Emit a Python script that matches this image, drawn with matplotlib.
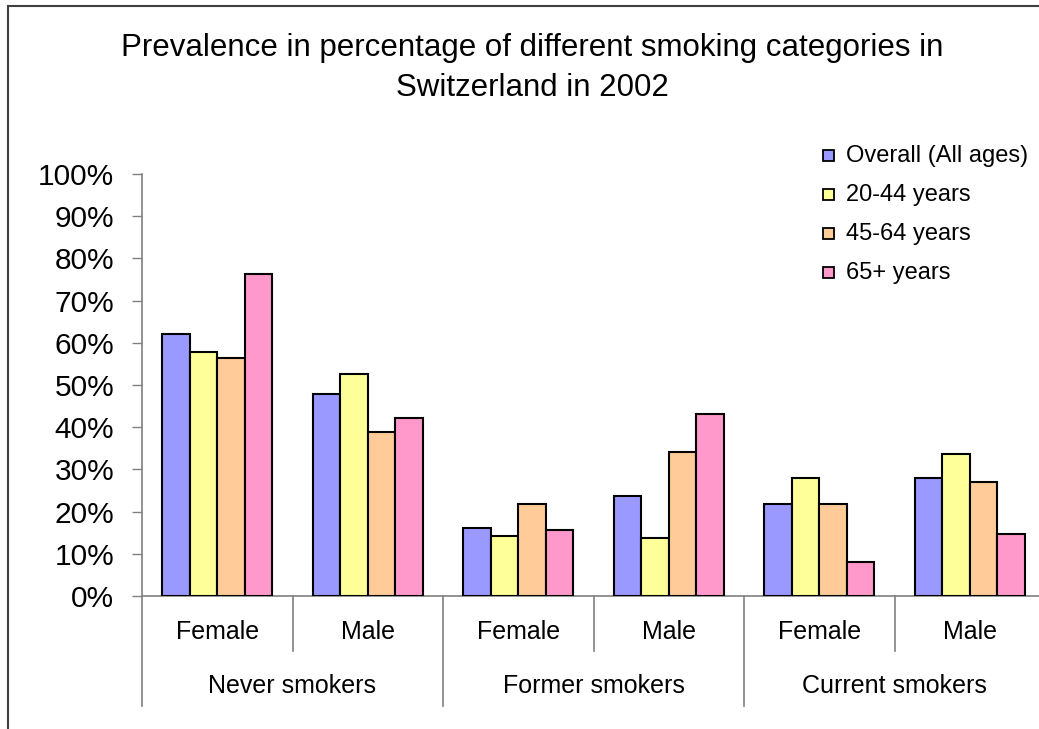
import matplotlib.pyplot as plt
import numpy as np
from matplotlib.patches import Rectangle

plt.rcParams['font.family'] = ['Liberation Sans', 'DejaVu Sans']

# data, in percent
groups = ["Never smokers", "Former smokers", "Current smokers"]
sexes = ["Female", "Male"]
series = ["Overall (All ages)", "20-44 years", "45-64 years", "65+ years"]
colors = ["#9999FF", "#FFFF99", "#FFCC99", "#FF99CC"]

overall = [62.0, 47.8, 16.1, 23.6, 21.7, 27.9]
age_20_44 = [57.8, 52.6, 14.3, 13.8, 27.9, 33.6]
age_45_64 = [56.3, 38.8, 21.8, 34.1, 21.7, 27.0]
age_65 = [76.2, 42.2, 15.7, 43.1, 8.1, 14.7]
values = [overall, age_20_44, age_45_64, age_65]

W, H = 1039, 729
fig = plt.figure(figsize=(W / 100, H / 100), dpi=100)

def px(x, y):
    # pixel position (from top-left) -> figure fraction
    return x / W, 1 - y / H

# plot area: y axis at x=142, 0% at y=596, 100% at y=174, categories 150.5px wide
x0, y0 = px(142, 596)
ax = fig.add_axes([x0, y0, 903 / W, 422 / H])

ncat = len(groups) * len(sexes)
bar_w = 0.1833
start = 0.133
for i, (vals, col, lab) in enumerate(zip(values, colors, series)):
    xs = np.arange(ncat) + start + i * bar_w
    ax.bar(xs, vals, width=bar_w, align='edge', color=col,
           edgecolor='black', linewidth=1.5, label=lab, zorder=3)

ax.set_xlim(0, ncat)
ax.set_ylim(0, 100)
ax.set_yticks(np.arange(0, 101, 10))
ax.set_yticklabels([f"{v}%" for v in range(0, 101, 10)], fontsize=21.5)
ax.tick_params(axis='y', length=7, width=1, color='#808080', pad=13)
ax.set_xticks([])

for s in ['top', 'right']:
    ax.spines[s].set_visible(False)
for s in ['left', 'bottom']:
    ax.spines[s].set_color('#808080')
    ax.spines[s].set_linewidth(1.2)

# two-level category axis
tr = ax.get_xaxis_transform()
for k in range(ncat + 1):
    depth = -0.261 if k % 2 == 0 else -0.130
    ax.plot([k, k], [0, depth], transform=tr, color='#808080', lw=1.2,
            clip_on=False)
for k in range(ncat):
    ax.text(k + 0.5, -0.085, sexes[k % 2], transform=tr, ha='center',
            va='center', fontsize=18)
for g, name in enumerate(groups):
    ax.text(2 * g + 1, -0.213, name, transform=tr, ha='center',
            va='center', fontsize=18)

# title
tx, ty = px(532, 68)
fig.text(tx, ty, "Prevalence in percentage of different smoking categories in\nSwitzerland in 2002",
         ha='center', va='center', fontsize=22.5, linespacing=1.45)

# legend
for i, (col, lab) in enumerate(zip(colors, series)):
    cy = 156 + i * 39
    rx, ry = px(823, cy + 5)
    fig.add_artist(Rectangle((rx, ry), 11 / W, 11 / H, transform=fig.transFigure,
                             facecolor=col, edgecolor='black', lw=1.3))
    lx, ly = px(846, cy)
    fig.text(lx, ly, lab, ha='left', va='center', fontsize=17)

# chart frame
bx, by = px(8, 729 + 10)
fig.add_artist(Rectangle((bx, by), 1.0, 1 - 5.5 / H - by, transform=fig.transFigure,
                         facecolor='none', edgecolor='#404040', lw=1.5))

fig.savefig("out.png", dpi=100)
